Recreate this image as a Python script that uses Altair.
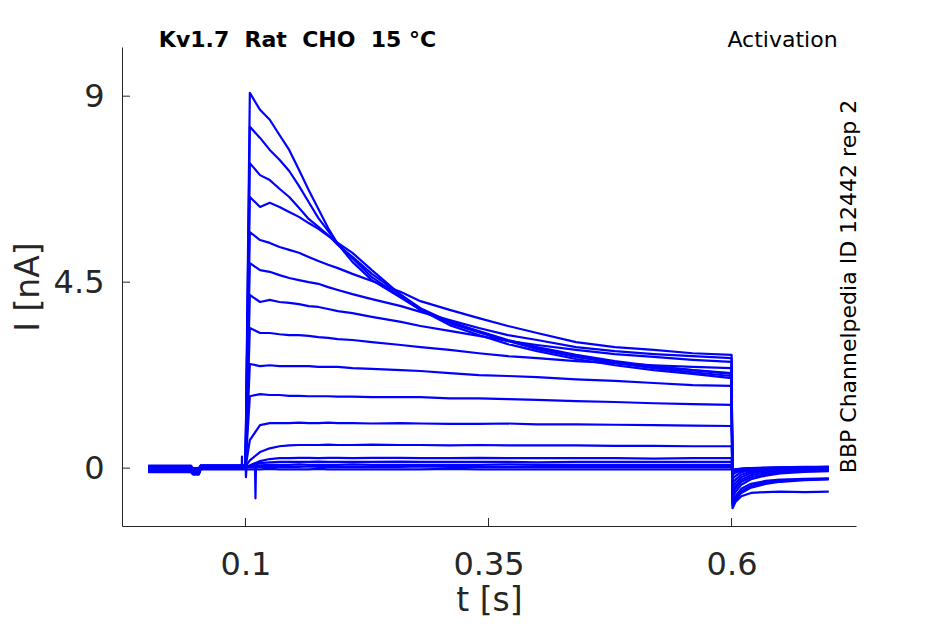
import altair as alt
import pandas as pd

# ---- time bases (s) ----
t_pre = [0.0, 0.044, 0.046, 0.052, 0.054, 0.1]
t_step = [0.1045, 0.115, 0.125, 0.135, 0.145, 0.155, 0.165, 0.175, 0.185, 0.195,
          0.21, 0.23, 0.26, 0.28, 0.31, 0.34, 0.37, 0.4, 0.44, 0.48, 0.52, 0.56, 0.6]
t_tail = [0.601, 0.604, 0.61, 0.62, 0.635, 0.65, 0.675, 0.7]

# ---- currents (nA) per sweep: holding period ----
pre_I = [
    [-0.05, -0.05, -0.12, -0.12, 0.02, 0.02],
    [-0.03, -0.03, -0.10, -0.10, 0.03, 0.03],
    [-0.08, -0.08, -0.14, -0.14, 0.00, 0.00],
    [0.00, 0.00, -0.07, -0.07, 0.04, 0.04],
    [-0.06, -0.06, -0.13, -0.13, 0.01, 0.01],
    [0.02, 0.02, -0.05, -0.05, 0.05, 0.05],
    [-0.02, -0.02, -0.09, -0.09, 0.02, 0.02],
    [0.04, 0.04, -0.03, -0.03, 0.06, 0.06],
    [-0.07, -0.07, -0.12, -0.12, -0.01, -0.01],
    [0.01, 0.01, -0.06, -0.06, 0.03, 0.03],
    [-0.04, -0.04, -0.10, -0.10, 0.00, 0.00],
    [0.03, 0.03, -0.04, -0.04, 0.04, 0.04],
    [-0.09, -0.09, -0.15, -0.15, -0.02, -0.02],
    [0.05, 0.05, -0.02, -0.02, 0.06, 0.06],
    [-0.01, -0.01, -0.08, -0.08, 0.02, 0.02],
    [0.06, 0.06, 0.00, 0.00, 0.07, 0.07],
    [-0.10, -0.10, -0.15, -0.15, -0.03, -0.03],
]

# ---- currents (nA) per sweep: test pulse ----
step_I = [
    [9.08, 8.67, 8.43, 8.06, 7.70, 7.22, 6.73, 6.27, 5.81, 5.42, 4.99, 4.55, 4.12, 3.83, 3.54, 3.32, 3.10, 2.93, 2.74, 2.59, 2.47, 2.37, 2.30],
    [8.26, 7.99, 7.70, 7.46, 7.19, 6.83, 6.44, 6.05, 5.74, 5.42, 5.08, 4.62, 4.14, 3.83, 3.51, 3.29, 3.08, 2.91, 2.71, 2.57, 2.45, 2.37, 2.28],
    [7.38, 7.09, 6.97, 6.76, 6.56, 6.30, 6.03, 5.84, 5.64, 5.40, 5.11, 4.70, 4.19, 3.87, 3.54, 3.29, 3.08, 2.88, 2.69, 2.54, 2.42, 2.32, 2.23],
    [6.56, 6.32, 6.42, 6.32, 6.20, 6.08, 5.93, 5.79, 5.62, 5.45, 5.21, 4.79, 4.19, 3.83, 3.46, 3.22, 3.00, 2.83, 2.64, 2.49, 2.37, 2.28, 2.18],
    [5.71, 5.52, 5.45, 5.35, 5.28, 5.21, 5.11, 5.01, 4.92, 4.84, 4.70, 4.53, 4.26, 4.04, 3.83, 3.63, 3.44, 3.27, 3.05, 2.93, 2.86, 2.78, 2.74],
    [4.96, 4.79, 4.75, 4.67, 4.60, 4.55, 4.50, 4.46, 4.38, 4.31, 4.21, 4.09, 3.92, 3.78, 3.58, 3.39, 3.22, 3.10, 2.93, 2.83, 2.76, 2.71, 2.66],
    [4.19, 4.02, 4.07, 4.02, 4.00, 3.97, 3.92, 3.90, 3.85, 3.80, 3.75, 3.66, 3.54, 3.44, 3.32, 3.20, 3.08, 2.98, 2.86, 2.76, 2.69, 2.62, 2.57],
    [3.39, 3.27, 3.27, 3.24, 3.22, 3.22, 3.20, 3.17, 3.15, 3.12, 3.10, 3.05, 2.98, 2.93, 2.86, 2.78, 2.71, 2.66, 2.59, 2.54, 2.49, 2.45, 2.42],
    [2.52, 2.47, 2.49, 2.47, 2.47, 2.47, 2.47, 2.45, 2.45, 2.45, 2.42, 2.40, 2.37, 2.35, 2.30, 2.25, 2.23, 2.20, 2.15, 2.11, 2.06, 2.01, 1.99],
    [1.74, 1.79, 1.77, 1.77, 1.75, 1.75, 1.74, 1.74, 1.74, 1.73, 1.73, 1.72, 1.72, 1.72, 1.69, 1.69, 1.67, 1.65, 1.62, 1.60, 1.57, 1.55, 1.53],
    [0.68, 1.04, 1.09, 1.09, 1.09, 1.10, 1.09, 1.09, 1.10, 1.09, 1.09, 1.08, 1.09, 1.08, 1.07, 1.07, 1.08, 1.06, 1.06, 1.05, 1.04, 1.03, 1.02],
    [0.19, 0.39, 0.48, 0.53, 0.55, 0.56, 0.56, 0.56, 0.57, 0.56, 0.56, 0.57, 0.56, 0.56, 0.55, 0.56, 0.55, 0.55, 0.55, 0.54, 0.54, 0.53, 0.53],
    [0.07, 0.17, 0.22, 0.24, 0.24, 0.25, 0.25, 0.24, 0.25, 0.25, 0.24, 0.25, 0.25, 0.24, 0.24, 0.25, 0.24, 0.24, 0.24, 0.24, 0.23, 0.24, 0.24],
    [0.05, 0.12, 0.14, 0.15, 0.15, 0.15, 0.15, 0.16, 0.15, 0.15, 0.15, 0.15, 0.16, 0.15, 0.15, 0.15, 0.15, 0.14, 0.15, 0.15, 0.15, 0.15, 0.15],
    [0.04, 0.07, 0.08, 0.08, 0.08, 0.09, 0.08, 0.08, 0.08, 0.08, 0.09, 0.08, 0.08, 0.08, 0.08, 0.08, 0.09, 0.08, 0.08, 0.08, 0.08, 0.08, 0.08],
    [0.02, 0.03, 0.03, 0.03, 0.03, 0.03, 0.04, 0.03, 0.03, 0.03, 0.03, 0.03, 0.03, 0.04, 0.03, 0.03, 0.03, 0.03, 0.03, 0.03, 0.03, 0.03, 0.03],
    [-0.03, -0.03, -0.02, -0.03, -0.03, -0.03, -0.03, -0.02, -0.03, -0.03, -0.03, -0.03, -0.03, -0.03, -0.02, -0.03, -0.03, -0.03, -0.03, -0.03, -0.03, -0.03, -0.03],
]

# ---- currents (nA) per sweep: tail after the pulse ----
tail_I = [
    [-0.97, -0.82, -0.68, -0.60, -0.58, -0.57, -0.58, -0.57],
    [-0.90, -0.78, -0.60, -0.47, -0.38, -0.33, -0.29, -0.27],
    [-0.86, -0.74, -0.56, -0.43, -0.35, -0.31, -0.28, -0.26],
    [-0.80, -0.68, -0.50, -0.38, -0.31, -0.28, -0.26, -0.25],
    [-0.70, -0.58, -0.40, -0.27, -0.18, -0.13, -0.09, -0.07],
    [-0.62, -0.50, -0.33, -0.22, -0.14, -0.10, -0.06, -0.05],
    [-0.55, -0.44, -0.28, -0.17, -0.10, -0.07, -0.04, -0.03],
    [-0.46, -0.36, -0.22, -0.12, -0.06, -0.04, -0.02, -0.01],
    [-0.36, -0.28, -0.16, -0.08, -0.04, -0.02, 0.00, 0.01],
    [-0.26, -0.19, -0.10, -0.05, -0.02, 0.00, 0.01, 0.02],
    [-0.16, -0.11, -0.06, -0.02, 0.00, 0.01, 0.02, 0.03],
    [-0.10, -0.07, -0.03, -0.01, 0.01, 0.02, 0.03, 0.03],
    [-0.06, -0.04, -0.02, 0.00, 0.01, 0.02, 0.02, 0.03],
    [-0.05, -0.03, -0.01, 0.00, 0.01, 0.01, 0.02, 0.02],
    [-0.04, -0.03, -0.02, -0.01, 0.00, 0.00, 0.01, 0.01],
    [-0.05, -0.04, -0.03, -0.03, -0.02, -0.02, -0.02, -0.02],
    [-0.08, -0.07, -0.07, -0.06, -0.06, -0.06, -0.06, -0.06],
]

# ---- capacitive artifacts ----
spike1_t = [0.0962, 0.0964, 0.0966]
spike1_I = [0.0, 0.28, 0.0]
spike2_t = [0.0995, 0.1, 0.1005, 0.101]
spike2_I = [0.0, 0.31, -0.22, 0.0]
spike3_t = [0.1098, 0.1103, 0.1108]
spike3_I = [0.03, -0.73, 0.03]

# ---- axis ticks ----
x_ticks = [0.1, 0.35, 0.6]
y_ticks = [0, 4.5, 9]

rows = []
ts_all = t_pre + t_step + t_tail
for k in range(len(step_I)):
    vals = pre_I[k] + step_I[k] + tail_I[k]
    for t, v in zip(ts_all, vals):
        rows.append({"trace": f"s{k}", "t": t, "I": v})
for name, tt, ii in [("a1", spike1_t, spike1_I), ("a2", spike2_t, spike2_I), ("a3", spike3_t, spike3_I)]:
    for t, v in zip(tt, ii):
        rows.append({"trace": name, "t": t, "I": v})
df = pd.DataFrame(rows)

W, H = 734, 479
FONT = "DejaVu Sans"
GREY = "#262626"
xs = alt.Scale(domain=[-0.027, 0.728], nice=False, zero=False)
ys = alt.Scale(domain=[-1.4, 10.19], nice=False, zero=False)

x_axis = alt.Axis(values=x_ticks, labelExpr="toString(datum.value)", title="t [s]", labelPadding=23,
                  titleX=W / 2, titleY=84, titleAlign="center", titleBaseline="alphabetic")
y_axis = alt.Axis(values=y_ticks, labelExpr="toString(datum.value)", title="I [nA]", labelPadding=18,
                  titleAngle=270, titleX=-83.5, titleY=H / 2, titleAlign="center",
                  titleBaseline="alphabetic")
x_enc = alt.X("t:Q", scale=xs, axis=x_axis)
y_enc = alt.Y("I:Q", scale=ys, axis=y_axis)

lines = alt.Chart(df).mark_line(color="#0000FF", strokeWidth=2.2, strokeJoin="round").encode(
    x=x_enc, y=y_enc, detail="trace:N")

yt = alt.Chart(pd.DataFrame({"I": y_ticks})).mark_rule(color=GREY, strokeWidth=1).encode(
    y=y_enc, x=alt.value(0), x2=alt.value(8))
xt = alt.Chart(pd.DataFrame({"t": x_ticks})).mark_rule(color=GREY, strokeWidth=1).encode(
    x=x_enc, y=alt.value(H), y2=alt.value(H - 8))


def label(txt, x, y, **kw):
    return alt.Chart(alt.Data(values=[{"s": txt}])).mark_text(font=FONT, **kw).encode(
        text="s:N", x=alt.value(x), y=alt.value(y))


title_txt = label("Kv1.7\u00a0\u00a0Rat\u00a0\u00a0CHO\u00a0\u00a015\u00a0°C", 175.5, 0,
                  fontSize=22, fontWeight="bold", align="center", baseline="alphabetic", color="#000000")
act_txt = label("Activation", 660.5, 0, fontSize=22, align="center", baseline="alphabetic", color="#000000")
id_txt = label("BBP Channelpedia ID 12442 rep 2", W, H / 2, fontSize=22, angle=270,
               align="center", baseline="alphabetic", color="#000000")

chart = alt.layer(lines, yt, xt, title_txt, act_txt, id_txt).properties(
    width=W, height=H,
    autosize=alt.AutoSizeParams(type="none"),
    padding={"left": 114, "top": 39, "right": 60, "bottom": 96},
).configure_view(stroke=None).configure_axis(
    grid=False, ticks=False, tickSize=0, domain=True, labels=True,
    domainColor=GREY, domainWidth=1,
    labelFont=FONT, labelFontSize=32, labelColor=GREY, labelFlush=False,
    titleFont=FONT, titleFontSize=33, titleFontWeight="normal", titleColor=GREY,
)

chart.save("out.html", embed_options={"renderer": "svg", "actions": False})
